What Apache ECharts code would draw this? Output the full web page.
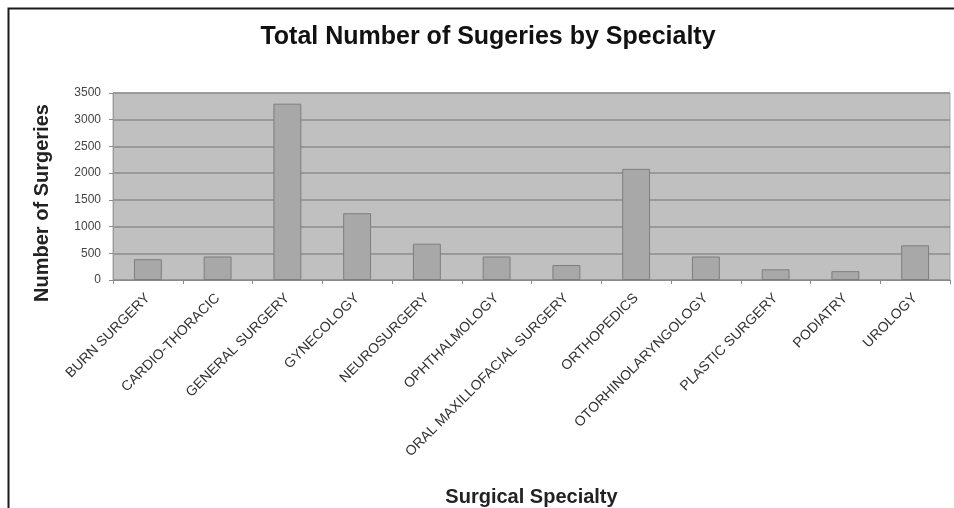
<!DOCTYPE html>
<html>
<head>
<meta charset="utf-8">
<style>
  html, body { margin: 0; padding: 0; background: #ffffff; }
  #chart { width: 954px; height: 508px; }
</style>
<script src="https://cdn.jsdelivr.net/npm/echarts@6/dist/echarts.min.js"></script>
</head>
<body>
<div id="chart"></div>
<script>
// Surgical specialties and their case counts
const specialties = [
  'BURN SURGERY', 'CARDIO-THORACIC', 'GENERAL SURGERY', 'GYNECOLOGY',
  'NEUROSURGERY', 'OPHTHALMOLOGY', 'ORAL MAXILLOFACIAL SURGERY', 'ORTHOPEDICS',
  'OTORHINOLARYNGOLOGY', 'PLASTIC SURGERY', 'PODIATRY', 'UROLOGY'
];
const surgeries = [390, 440, 3300, 1250, 680, 440, 280, 2080, 440, 200, 165, 650];
const yTicks = [0, 500, 1000, 1500, 2000, 2500, 3000, 3500];

const chart = echarts.init(document.getElementById('chart'), null, { renderer: 'canvas' });

const font = 'Arial, "Liberation Sans", sans-serif';

chart.setOption({
  animation: false,
  backgroundColor: '#ffffff',
  title: {
    text: 'Total Number of Sugeries by Specialty',
    left: 483,
    top: 20,
    textAlign: 'center',
    textStyle: { fontFamily: font, fontSize: 25, fontWeight: 'bold', color: '#111111' }
  },
  grid: {
    left: 113,
    right: 4,
    top: 93,
    bottom: 225,
    show: true,
    backgroundColor: '#c0c0c0',
    borderColor: '#a8a8a8',
    borderWidth: 1
  },
  xAxis: {
    type: 'category',
    data: specialties,
    name: 'Surgical Specialty',
    nameLocation: 'middle',
    nameGap: 207,
    nameTextStyle: { fontFamily: font, fontSize: 20, fontWeight: 'bold', color: '#222222' },
    axisLine: { show: true, lineStyle: { color: '#8a8a8a', width: 1 } },
    axisTick: { show: true, alignWithLabel: false, length: 4, lineStyle: { color: '#8a8a8a' } },
    axisLabel: {
      interval: 0,
      rotate: 45,
      margin: 16,
      fontFamily: font,
      fontSize: 14,
      color: '#333333'
    }
  },
  yAxis: {
    type: 'value',
    min: yTicks[0],
    max: yTicks[yTicks.length - 1],
    interval: yTicks[1] - yTicks[0],
    axisLine: { show: true, lineStyle: { color: '#9a9a9a' } },
    axisTick: { show: true, length: 4, lineStyle: { color: '#8a8a8a' } },
    axisLabel: {
      margin: 12,
      fontFamily: font,
      fontSize: 12,
      color: '#444444',
      formatter: (v) => String(v)
    },
    splitLine: { show: true, lineStyle: { color: '#8c8c8c', width: 1.5 } }
  },
  graphic: [
    {
      type: 'rect',
      silent: true,
      shape: { x: 8.5, y: 8.5, width: 1000, height: 600 },
      style: { fill: 'none', stroke: '#1a1a1a', lineWidth: 2 }
    },
    {
      type: 'text',
      silent: true,
      x: 42,
      y: 203,
      rotation: Math.PI / 2,
      style: {
        text: 'Number of Surgeries',
        fontFamily: font,
        fontSize: 20,
        fontWeight: 'bold',
        fill: '#222222',
        align: 'center',
        verticalAlign: 'middle'
      }
    }
  ],
  series: [
    {
      type: 'bar',
      data: surgeries,
      barWidth: '40%',
      itemStyle: { color: '#a8a8a8', borderColor: '#7e7e7e', borderWidth: 1 }
    }
  ]
});
</script>
</body>
</html>
